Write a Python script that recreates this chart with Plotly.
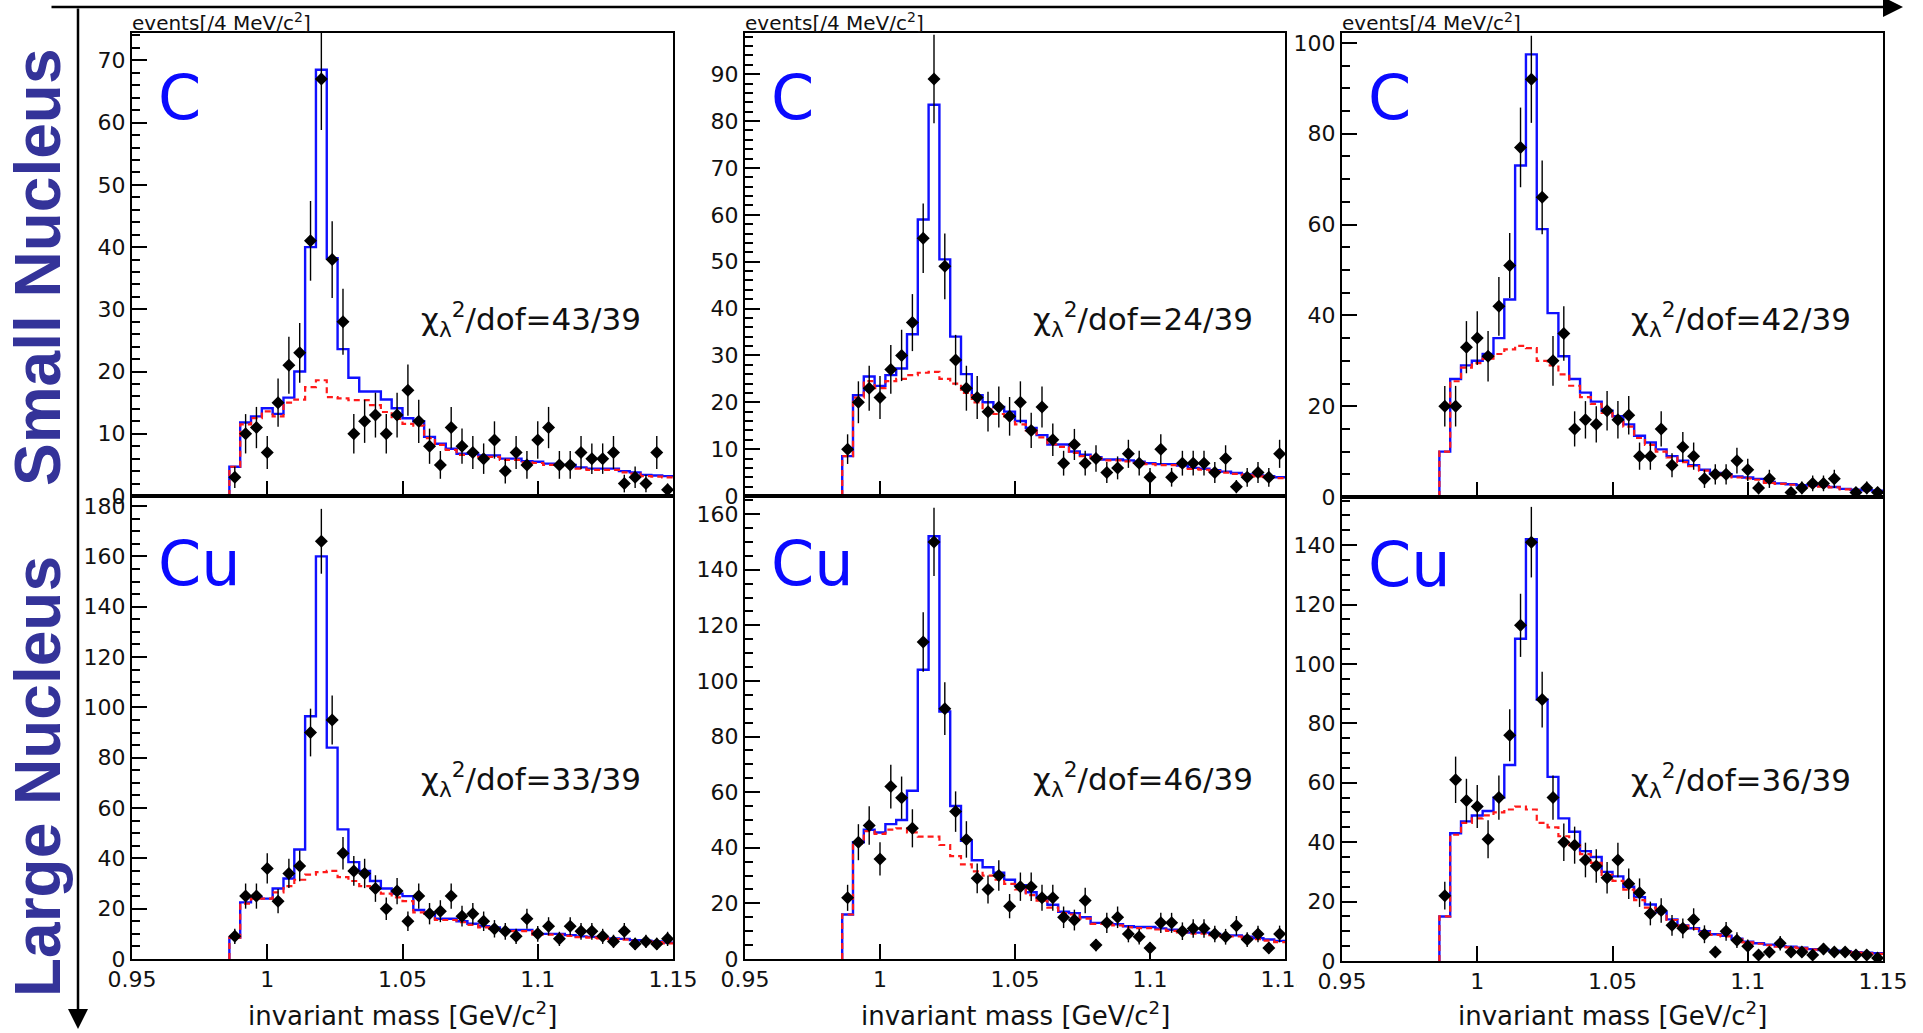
import math
import plotly.graph_objects as go

W, H = 1923, 1033

# ---- binning (4 MeV/c^2 bins) ----
BIN_LOW = 0.986
BIN_WIDTH = 0.004
N_BINS = 41
X_TICKS = [0.95, 1.0, 1.05, 1.1, 1.15]
X_TICK_TEXT = ["0.95", "1", "1.05", "1.1", "1.15"]

panel_targets = ["C", "C", "C", "Cu", "Cu", "Cu"]
panel_chi2 = ["43/39", "24/39", "42/39", "33/39", "46/39", "36/39"]

# ---- data points (events per bin) ----
data_C1 = [3, 10, 11, 7, 15, 21, 23, 41, 67, 38, 28, 10, 12, 13, 10, 13, 17, 12, 8, 5, 11, 8, 7, 6, 9,
           4, 7, 5, 9, 11, 5, 5, 7, 6, 6, 7, 2, 3, 2, 7, 1]
data_C2 = [10, 20, 23, 21, 27, 30, 37, 55, 89, 49, 29, 23, 21, 18, 19, 17, 20, 14, 19, 12, 7, 11, 7, 8, 5,
           6, 9, 7, 4, 10, 4, 7, 7, 7, 5, 8, 2, 4, 5, 4, 9]
data_C3 = [20, 20, 33, 35, 31, 42, 51, 77, 92, 66, 30, 36, 15, 17, 16, 19, 17, 18, 9, 9, 15, 7, 11, 9, 4,
           5, 5, 8, 6, 2, 4, None, 1, 2, 3, 3, 4, None, 1, 2, 1]
data_Cu1 = [9, 25, 25, 36, 23, 34, 37, 90, 166, 95, 42, 35, 34, 28, 20, 27, 15, 25, 18, 19, 25, 17, 18, 15, 12,
            11, 9, 16, 10, 13, 8, 13, 11, 11, 9, 7, 11, 6, 7, 6, 8]
data_Cu2 = [22, 42, 48, 36, 62, 58, 47, 114, 150, 90, 53, 43, 29, 25, 30, 19, 26, 26, 22, 22, 15, 14, 21, 5, 13,
            15, 9, 8, 4, 13, 13, 10, 11, 11, 9, 8, 12, 7, 9, 4, 9]
data_Cu3 = [22, 61, 54, 52, 41, 55, 76, 113, 141, 88, 55, 40, 39, 34, 32, 28, 34, 26, 23, 16, 17, 12, 11, 14, 9,
            3, 10, 7, 5, 2, 3, 6, 3, 3, 2, 4, 3, 3, 2, 2, 1]

# ---- total fit (blue histogram) ----
fit_C1 = [4.7, 11.8, 12.8, 14.1, 13.2, 15.8, 20, 40, 68.5, 38.2, 23.6, 19, 16.8, 16.8, 15.5, 14.1, 12.5, 12.0,
          9.5, 8.4, 7.6, 6.8, 6.8, 6.5, 6.5, 6.0, 6.0, 5.6, 5.5, 5.2, 5.0, 5.0, 4.6, 4.4, 4.4, 4.4, 4.0, 3.8,
          3.4, 3.3, 3.2]
fit_C2 = [8.5, 21.5, 25.5, 23.5, 25.8, 27.2, 34.5, 59, 83.5, 50.5, 34, 26, 21.5, 20, 19, 18, 16, 14.5, 13, 11,
          11, 9.5, 8.8, 8.3, 7.8, 7.8, 7.6, 7.3, 7.0, 6.8, 6.8, 6.5, 6.0, 5.8, 5.5, 5.2, 4.9, 4.6, 4.4, 4.2, 4.0]
fit_C3 = [10, 26, 29, 30, 31.5, 35, 43.5, 73, 97.5, 59, 40.5, 31, 26, 23, 21, 19, 17.8, 16, 13.5, 12, 10.5, 9,
          8, 7, 6, 5.3, 5, 4.5, 4.3, 4, 3.3, 3, 2.8, 2.6, 2.5, 2.4, 2.2, 1.8, 1.6, 1.5, 1.4]
fit_Cu1 = [8.5, 22.5, 24.5, 24, 28, 32, 43.5, 96.5, 160, 84, 51.5, 38.5, 35, 31, 28, 26, 25, 19.5, 18.5, 16,
           16, 15, 14, 13, 12.5, 11.5, 11.5, 11.5, 10, 10, 10, 9.5, 9, 8.8, 8.5, 8.2, 8, 7.5, 7.3, 7, 6.5]
fit_Cu2 = [16, 42, 46.5, 45.5, 48.5, 50, 60.5, 104, 152, 89, 55, 42.5, 35.5, 33, 31, 28.5, 26.5, 24, 22, 19.5,
           17, 16.5, 15, 13, 13, 12.5, 11.8, 11.5, 11.5, 11, 10.5, 10, 9.5, 9.5, 9, 8.5, 8.5, 8, 7.5, 7, 6.5]
fit_Cu3 = [15, 43, 47, 49, 50.5, 55, 66, 108.5, 142, 88, 62, 48, 43.5, 37, 35, 30, 28.5, 25, 21.5, 19, 16.5,
           14, 12, 11, 10, 9, 8.5, 7.5, 6.5, 6, 5.5, 5, 4.8, 4.5, 4, 3.7, 3.5, 3.3, 3, 2.8, 2.6]

# ---- background (red dashed histogram) ----
bkg_C1 = [4.7, 11.5, 12.5, 13.6, 12.8, 15.0, 15.5, 17.5, 18.6, 15.9, 15.7, 15.4, 15.4, 14.6, 13.5, 12.4, 11.6,
          11.3, 9.3, 8.2, 7.4, 6.6, 6.6, 6.3, 6.3, 5.8, 5.8, 5.4, 5.3, 5.0, 4.8, 4.8, 4.4, 4.2, 4.2, 4.2, 3.8,
          3.6, 3.2, 3.1, 3.0]
bkg_C2 = [8.5, 21.0, 24.5, 23.0, 24.5, 25.0, 25.8, 26.3, 26.5, 25.0, 24.0, 22.0, 20.0, 18.5, 17.5, 16.5, 15.3,
          14.0, 12.5, 11.0, 10.5, 9.2, 8.5, 8.1, 7.6, 7.6, 7.4, 7.1, 6.8, 6.6, 6.6, 6.3, 5.8, 5.6, 5.3, 5.0,
          4.7, 4.4, 4.2, 4.0, 3.8]
bkg_C3 = [10, 25.5, 28.5, 29.5, 30.5, 31.5, 32.5, 33.3, 32.8, 30, 29, 27, 24.5, 22, 20.5, 18.5, 17, 15.5, 13,
          11.5, 10, 8.7, 7.7, 6.8, 5.8, 5.1, 4.8, 4.3, 4.1, 3.8, 3.1, 2.9, 2.7, 2.5, 2.4, 2.3, 2.1, 1.7, 1.5,
          1.4, 1.3]
bkg_Cu1 = [8.5, 22, 24, 24, 26.5, 29, 31.5, 33.5, 34.5, 35, 32.5, 31, 29, 27.5, 26, 24.5, 23, 18.5, 18, 15.5,
           15.5, 14.6, 13.6, 12.6, 12.1, 11.1, 11.1, 11.1, 9.7, 9.7, 9.7, 9.2, 8.7, 8.5, 8.2, 7.9, 7.7, 7.2,
           7.0, 6.7, 6.2]
bkg_Cu2 = [16, 41.5, 46, 45, 46.5, 47, 45.5, 44, 44, 41, 37, 34, 31.5, 30, 28.5, 27, 25, 23, 21, 18.5, 16.5,
           16, 14.5, 12.6, 12.6, 12.1, 11.4, 11.1, 11.1, 10.6, 10.1, 9.6, 9.1, 9.1, 8.6, 8.1, 8.1, 7.6, 7.1,
           6.6, 6.1]
bkg_Cu3 = [15, 42.5, 46.5, 48, 49, 50, 51, 52, 51, 46.5, 45, 42, 39, 36, 33, 29, 27, 24, 20.5, 18, 16, 13.8,
           11.8, 10.8, 9.8, 8.8, 8.3, 7.3, 6.3, 5.8, 5.3, 4.8, 4.6, 4.3, 3.8, 3.5, 3.3, 3.1, 2.8, 2.6, 2.4]

panel_data = [data_C1, data_C2, data_C3, data_Cu1, data_Cu2, data_Cu3]
panel_fit = [fit_C1, fit_C2, fit_C3, fit_Cu1, fit_Cu2, fit_Cu3]
panel_bkg = [bkg_C1, bkg_C2, bkg_C3, bkg_Cu1, bkg_Cu2, bkg_Cu3]

# ---- layout (pixel boxes of each frame) ----
panel_box = [  # left, right, top, bottom in px
    (132, 673, 33, 496), (745, 1285, 33, 496), (1342, 1883, 33, 497),
    (132, 673, 496, 959), (745, 1285, 496, 959), (1342, 1883, 497, 961),
]
y_max = [74.4, 98.8, 102.2, 184, 166.5, 156.2]
y_major = [10, 10, 20, 20, 20, 20]
y_minor = [2, 2, 5, 5, 5, 5]


def px(x):
    return x / W


def py(y):
    return 1 - y / H


edges = [BIN_LOW + BIN_WIDTH * k for k in range(N_BINS + 1)]
centers = [BIN_LOW + BIN_WIDTH * (k + 0.5) for k in range(N_BINS)]

TXT = "#111111"
FONT = "DejaVu Sans"

fig = go.Figure()
annotations = []

for i in range(6):
    ax_id = "" if i == 0 else str(i + 1)
    xref, yref = "x" + ax_id, "y" + ax_id
    L, R, T, B = panel_box[i]
    bottom_row = i >= 3

    step_x = [edges[0]] + edges
    fy = [0] + panel_fit[i] + [panel_fit[i][-1]]
    by = [0] + panel_bkg[i] + [panel_bkg[i][-1]]
    fig.add_trace(go.Scatter(x=step_x, y=fy, mode="lines", line=dict(shape="hv", color="#1010ff", width=2.4),
                             xaxis=xref, yaxis=yref, showlegend=False, hoverinfo="skip"))
    fig.add_trace(go.Scatter(x=step_x, y=by, mode="lines",
                             line=dict(shape="hv", color="#ff1a1a", width=2.2, dash="6px,4px"),
                             xaxis=xref, yaxis=yref, showlegend=False, hoverinfo="skip"))
    d = panel_data[i]
    errs = [math.sqrt(v) if v is not None else None for v in d]
    fig.add_trace(go.Scatter(x=centers, y=d, mode="markers",
                             marker=dict(symbol="diamond", size=10, color="black"),
                             error_y=dict(type="data", array=errs, visible=True, thickness=1.4, width=0,
                                          color="black"),
                             xaxis=xref, yaxis=yref, showlegend=False))

    xa = dict(domain=[px(L), px(R)], range=[0.95, 1.15], anchor=yref, showline=True, linecolor="black",
              linewidth=2, mirror=True, ticks="inside", ticklen=15, tickwidth=1.5, tickcolor="black",
              tickvals=X_TICKS, ticktext=X_TICK_TEXT, showticklabels=bottom_row, showgrid=False,
              zeroline=False, automargin=False, tickfont=dict(family=FONT, size=22, color=TXT))
    ya = dict(domain=[py(B), py(T)], range=[0, y_max[i]], anchor=xref, showline=True, linecolor="black",
              linewidth=2, mirror=True, ticks="inside", ticklen=15, tickwidth=1.5, tickcolor="black",
              tick0=0, dtick=y_major[i], showgrid=False, zeroline=False, automargin=False,
              tickfont=dict(family=FONT, size=22, color=TXT),
              minor=dict(dtick=y_minor[i], ticks="inside", ticklen=8, tickwidth=1.5, tickcolor="black",
                         showgrid=False))
    fig.update_layout(**{"xaxis" + ax_id: xa, "yaxis" + ax_id: ya})

    # target label
    annotations.append(dict(text=panel_targets[i], xref="paper", yref="paper", x=px(L + 24),
                            y=py(T + (64 if not bottom_row else 67)), xanchor="left", yanchor="middle",
                            showarrow=False, font=dict(family=FONT, size=62, color="#0a0aff")))
    # chi2 label
    annotations.append(dict(text="χ<sub>λ</sub><sup>2</sup>/dof=" + panel_chi2[i], xref="paper", yref="paper",
                            x=px(R - 30), y=py(T + (286 if not bottom_row else 283)), xanchor="right",
                            yanchor="middle", showarrow=False, font=dict(family=FONT, size=31, color=TXT)))
    if not bottom_row:
        annotations.append(dict(text="events[/4 MeV/c<sup>2</sup>]", xref="paper", yref="paper", x=px(L - 2),
                                y=py(T - 11), xanchor="left", yanchor="middle", showarrow=False,
                                font=dict(family=FONT, size=20, color=TXT)))
    else:
        annotations.append(dict(text="invariant mass [GeV/c<sup>2</sup>]", xref="paper", yref="paper",
                                x=px((L + R) / 2), y=py(1014), xanchor="center", yanchor="middle",
                                showarrow=False, font=dict(family=FONT, size=26, color=TXT)))

# side labels
SIDE = dict(family="Liberation Sans, Arial, sans-serif", size=64, color="#343399")
annotations.append(dict(text="<b>Small Nucleus</b>", xref="paper", yref="paper", x=px(38), y=py(267),
                        textangle=-90, showarrow=False, xanchor="center", yanchor="middle", font=SIDE))
annotations.append(dict(text="<b>Large Nucleus</b>", xref="paper", yref="paper", x=px(38), y=py(777),
                        textangle=-90, showarrow=False, xanchor="center", yanchor="middle", font=SIDE))

# arrows
annotations.append(dict(text="", xref="paper", yref="paper", x=px(1903), y=py(7), ax=-(1903 - 50), ay=0,
                        showarrow=True, arrowhead=2, arrowsize=1.6, arrowwidth=2.5, arrowcolor="black",
                        standoff=0))
annotations.append(dict(text="", xref="paper", yref="paper", x=px(78), y=py(1029), ax=0, ay=-(1029 - 7),
                        showarrow=True, arrowhead=2, arrowsize=1.6, arrowwidth=2.5, arrowcolor="black",
                        standoff=0))

# the neighbouring panel covers the end of the middle panel's last x label
shapes = [dict(type="rect", xref="paper", yref="paper", x0=px(1297), x1=px(1318), y0=py(995), y1=py(966),
               fillcolor="white", line=dict(width=0), layer="above")]

fig.update_layout(width=W, height=H, margin=dict(l=0, r=0, t=0, b=0, autoexpand=False), autosize=False,
                  paper_bgcolor="white", plot_bgcolor="white", annotations=annotations, shapes=shapes,
                  showlegend=False)

fig.write_html("out.html", config={"displayModeBar": False})
